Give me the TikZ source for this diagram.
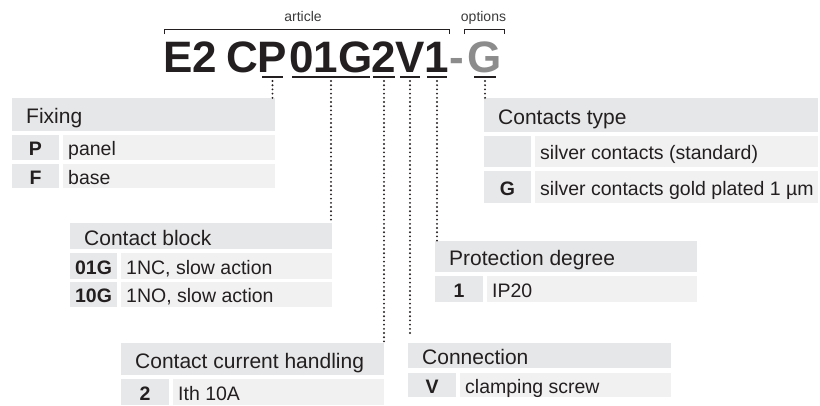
\documentclass[tikz,border=0pt]{standalone}
\usepackage{fontspec}
\setmainfont{Liberation Sans}
\usetikzlibrary{calc}
\definecolor{ink}{HTML}{231F20}
\definecolor{optgray}{HTML}{8C8C8C}
\definecolor{hdrfill}{HTML}{E6E7E8}
\definecolor{keyfill}{HTML}{E7E8E9}
\definecolor{valfill}{HTML}{F1F1F2}
\definecolor{lblgray}{HTML}{3A3A3A}
\newcommand\mkcell[6]{%
  \node[#1, anchor=north west, minimum width={#5pt-#3pt}, minimum height={#6pt-#4pt}] (#2) at (#3,#4) {};}
\tikzset{
  hdrcell/.style={fill=hdrfill, inner sep=0, outer sep=0},
  keycell/.style={fill=keyfill, inner sep=0, outer sep=0},
  valcell/.style={fill=valfill, inner sep=0, outer sep=0},
  hdrtxt/.style={font=\fontsize{21pt}{21pt}\selectfont, text=ink, inner sep=0, text height=15pt, text depth=0pt, anchor=west},
  valtxt/.style={font=\fontsize{19.5pt}{19.5pt}\selectfont, text=ink, inner sep=0, text height=14pt, text depth=0pt, anchor=west},
  keytxt/.style={font=\bfseries\fontsize{19.5pt}{19.5pt}\selectfont, text=ink, inner sep=0, text height=14pt, text depth=0pt},
  ttl/.style={font=\bfseries\fontsize{44pt}{44pt}\selectfont, text=ink, inner sep=0, anchor=base},
  lbl/.style={font=\fontsize{14pt}{14pt}\selectfont, text=lblgray, inner sep=0, anchor=base},
  uline/.style={draw=ink, line width=2pt},
  brk/.style={draw=ink, line width=0.9pt},
  dots/.style={draw=ink, line width=2.1pt, dash pattern=on 0pt off 4.2pt, line cap=round},
}
\begin{document}
\begin{tikzpicture}[x=1pt,y=-1pt]
\useasboundingbox (0,0) rectangle (820,405);
% title
\node[ttl] (tE) at (190,72) {E2};
\node[ttl] (tC) at (242.5,72) {C};
\node[ttl] (tP) at (272.5,72) {P};
\node[ttl] (tO) at (331,72) {01G};
\node[ttl] (tT) at (384,72) {2};
\node[ttl] (tV) at (410,72) {V};
\node[ttl] (tI) at (437,72) {1};
\node[ttl, text=optgray] (tD) at (456.5,72) {-};
\node[ttl, text=optgray] (tG) at (485,72) {G};
% underlines
\draw[uline] ([xshift=-10.5pt]tP.base) ++(0,4.5) -- ++(21,0);
\draw[uline] ([xshift=-39pt]tO.base) ++(0,4.5) -- ++(78,0);
\draw[uline] ([xshift=-11pt]tT.base) ++(0,4.5) -- ++(22,0);
\draw[uline] ([xshift=-10pt]tV.base) ++(0,4.5) -- ++(20,0);
\draw[uline] ([xshift=-10pt]tI.base) ++(0,4.5) -- ++(20,0);
\draw[uline] ([xshift=-11pt]tG.base) ++(0,4.5) -- ++(22,0);
% brackets
\node[lbl] (lart) at (303,21.5) {article};
\node[lbl] (lopt) at (483.5,21.5) {options};
\draw[brk] (164,34) -- (164,29) -- (449,29) -- (449,34);
\draw[brk] (464,34) -- (464,29) -- (504,29) -- (504,34);
% Fixing
\mkcell{hdrcell}{fixh}{12}{98}{275}{131}
\mkcell{keycell}{fixk1}{12}{135}{59}{160}
\mkcell{valcell}{fixv1}{63}{135}{275}{160}
\mkcell{keycell}{fixk2}{12}{164}{59}{188}
\mkcell{valcell}{fixv2}{63}{164}{275}{188}
\node[hdrtxt] (fixt) at ([xshift=14pt,yshift=-1.5pt]fixh.west) {Fixing};
\node[keytxt] (fixkt1) at ([yshift=-1pt]fixk1.center) {P};
\node[valtxt] (fixvt1) at ([xshift=5pt,yshift=-1pt]fixv1.west) {panel};
\node[keytxt] (fixkt2) at ([yshift=-1pt]fixk2.center) {F};
\node[valtxt] (fixvt2) at ([xshift=5pt,yshift=-1pt]fixv2.west) {base};
% Contacts type
\mkcell{hdrcell}{cth}{484}{98}{818}{132}
\mkcell{keycell}{ctk1}{484}{136}{531}{167}
\mkcell{valcell}{ctv1}{535}{136}{818}{167}
\mkcell{keycell}{ctk2}{484}{171}{531}{203}
\mkcell{valcell}{ctv2}{535}{171}{818}{203}
\node[hdrtxt] (ctt) at ([xshift=14pt,yshift=-1.5pt]cth.west) {Contacts type};
\node[valtxt] (ctvt1) at ([xshift=5pt,yshift=-1pt]ctv1.west) {silver contacts (standard)};
\node[keytxt] (ctkt2) at ([yshift=-1pt]ctk2.center) {G};
\node[valtxt] (ctvt2) at ([xshift=5pt,yshift=-1pt]ctv2.west) {silver contacts gold plated 1 µm};
% Contact block
\mkcell{hdrcell}{cbh}{70}{223}{332}{249}
\mkcell{keycell}{cbk1}{70}{253}{117}{279}
\mkcell{valcell}{cbv1}{121}{253}{332}{279}
\mkcell{keycell}{cbk2}{70}{282}{117}{307}
\mkcell{valcell}{cbv2}{121}{282}{332}{307}
\node[hdrtxt] (cbt) at ([xshift=14pt,yshift=-1.5pt]cbh.west) {Contact block};
\node[keytxt] (cbkt1) at ([yshift=-1pt]cbk1.center) {01G};
\node[valtxt] (cbvt1) at ([xshift=5pt,yshift=-1pt]cbv1.west) {1NC, slow action};
\node[keytxt] (cbkt2) at ([yshift=-1pt]cbk2.center) {10G};
\node[valtxt] (cbvt2) at ([xshift=5pt,yshift=-1pt]cbv2.west) {1NO, slow action};
% Protection degree
\mkcell{hdrcell}{prh}{435}{241}{697}{272}
\mkcell{keycell}{prk1}{435}{276}{483}{302}
\mkcell{valcell}{prv1}{487}{276}{697}{302}
\node[hdrtxt] (prt) at ([xshift=14pt,yshift=-1.5pt]prh.west) {Protection degree};
\node[keytxt] (prkt1) at ([yshift=-1pt]prk1.center) {1};
\node[valtxt] (prvt1) at ([xshift=5pt,yshift=-1pt]prv1.west) {IP20};
% Contact current handling
\mkcell{hdrcell}{cch}{121}{343}{384}{375}
\mkcell{keycell}{cck1}{121}{379}{169}{405}
\mkcell{valcell}{ccv1}{173}{379}{384}{405}
\node[hdrtxt] (cct) at ([xshift=14pt,yshift=-1.5pt]cch.west) {Contact current handling};
\node[keytxt] (cckt1) at ([yshift=-1pt]cck1.center) {2};
\node[valtxt] (ccvt1) at ([xshift=5pt,yshift=-1pt]ccv1.west) {Ith 10A};
% Connection
\mkcell{hdrcell}{coh}{408}{343}{671}{368}
\mkcell{keycell}{cok1}{408}{373}{456}{397}
\mkcell{valcell}{cov1}{460}{373}{671}{397}
\node[hdrtxt] (cot) at ([xshift=14pt,yshift=-1.5pt]coh.west) {Connection};
\node[keytxt] (cokt1) at ([yshift=-1pt]cok1.center) {V};
\node[valtxt] (covt1) at ([xshift=5pt,yshift=-1pt]cov1.west) {clamping screw};
% dotted leaders
\coordinate (dP) at ($(tP.base)+(0,9)$);
\coordinate (dO) at ($(tO.base)+(0,9)$);
\coordinate (dT) at ($(tT.base)+(0,9)$);
\coordinate (dV) at ($(tV.base)+(0,9)$);
\coordinate (dI) at ($(tI.base)+(0,9)$);
\coordinate (dG) at ($(tG.base)+(0,9)$);
\draw[dots] (dP) -- (dP |- fixh.north);
\draw[dots] (dO) -- (dO |- cbh.north);
\draw[dots] (dT) -- (dT |- cch.north);
\draw[dots, shorten >=6pt] (dV) -- (dV |- coh.north);
\draw[dots] (dI) -- (dI |- prh.north);
\draw[dots] (dG) -- (dG |- cth.north);
\end{tikzpicture}
\end{document}
